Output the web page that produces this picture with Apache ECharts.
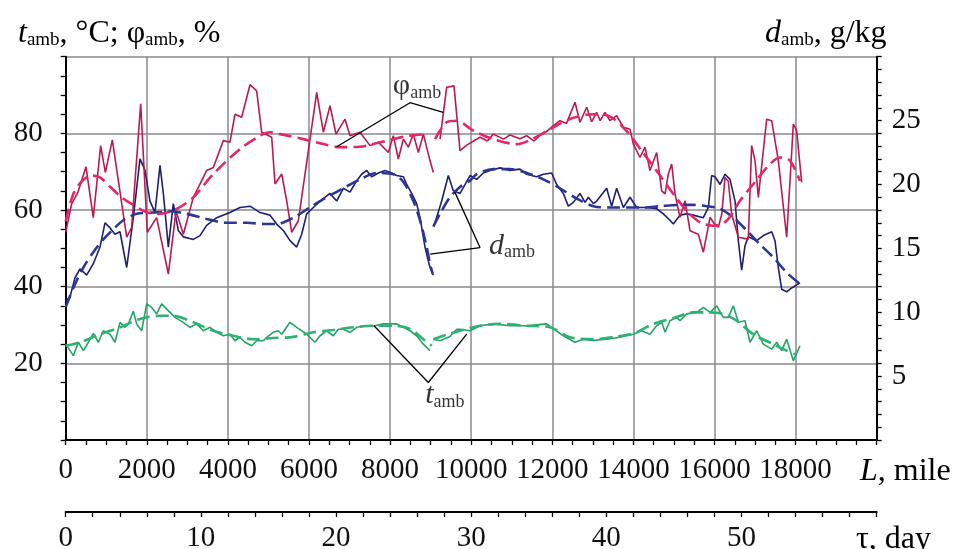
<!DOCTYPE html>
<html><head><meta charset="utf-8">
<script src="https://cdn.jsdelivr.net/npm/echarts@6/dist/echarts.min.js"></script>
<style>html,body{margin:0;padding:0;background:#fff}#c{width:964px;height:549px}</style>
</head><body><div id="c"></div>
<script>
// ---- tick labels / axes ----
const distTicks = [0,2000,4000,6000,8000,10000,12000,14000,16000,18000];
const dayTicks = [0,10,20,30,40,50];
const leftTicks = [20,40,60,80];
const rightTicks = [5,10,15,20,25];

// ---- relative humidity phi_amb, % (L mile, value) ----
const phiRaw1 = [[0,54.2],[147,61.6],[300,64.6],[500,71.3],[680,58],[862,76.8],[977,69.8],[1150,78.3],[1504,52.9],[1627,55.5],[1849,87.7],[2013,54.2],[2243,58],[2531,43.3],[2720,59.8],[2901,53.7],[3147,63.3],[3476,70.3],[3640,71.1],[3887,78.1],[4051,77.7],[4175,85],[4339,84.2],[4545,92.7],[4709,91.1],[4833,80.3],[5080,79],[5162,66.8],[5326,69.4],[5450,62.4],[5573,54.2],[5737,57.2],[6025,78.5],[6190,90.7],[6354,80.3],[6518,87.2],[6666,79.8],[6888,83.7],[7011,79.4],[7258,80.3],[7505,76.8],[7710,77.7],[7957,75],[8080,79.4],[8203,73.3],[8327,78.5],[8450,76.4],[8573,79.8],[8697,75],[8820,79.8],[8984,72.9],[9066,69.8]];
const phiRaw2 = [[9231,78.5],[9395,92],[9576,92.4],[9724,75.5],[9900,77],[10217,79],[10400,78],[10546,79.8],[10800,78.5],[10957,79.6],[11200,78.6],[11368,79.4],[11550,78],[11700,79.5],[11861,80.5],[12026,82],[12190,83.3],[12350,82.6],[12560,88.1],[12683,82.9],[12848,86.8],[12970,83],[13094,85.5],[13180,83.3],[13300,85.5],[13420,83.3],[13587,84.6],[13752,81.6],[13916,81.1],[13998,77.2],[14163,73.7],[14286,76.4],[14409,70.3],[14574,75],[14697,65],[14780,64.2],[14861,69.4],[14944,72],[15026,64.2],[15149,58.1],[15273,62.4],[15396,54.6],[15602,53.7],[15725,49],[15890,58.1],[15990,56.5],[16095,55.5],[16180,59],[16259,68.5],[16340,67.5],[16423,58.9],[16588,52.9],[16834,52.4],[16916,76.8],[16999,72.9],[17081,63.3],[17287,83.7],[17410,83.3],[17574,72.9],[17780,52.9],[17944,82.4],[18026,80.7],[18150,67.2]];
const phiFit1 = [[0,57],[188,64.2],[400,67.5],[640,69],[846,68.5],[1100,66],[1380,63.3],[1627,61.6],[1997,59.4],[2325,59],[2736,60.3],[3147,63.3],[3640,69.4],[4299,75.9],[4792,79.4],[5038,80.3],[5285,79.8],[5860,78.5],[6354,77.2],[6765,76.4],[7258,76.5],[7587,77.2],[8080,78.5],[8491,79.4],[8900,79.8]];
const phiFit2 = [[9107,78.5],[9395,82.9],[9641,83.3],[10052,80.7],[10546,78.5],[11121,77.2],[11500,78.5],[12025,81.6],[12500,84],[13000,85],[13400,84.5],[13800,81],[14200,75.5],[14656,69],[14985,64.2],[15314,59.8],[15643,56.8],[15971,55.9],[16300,57.2],[16629,62.4],[16958,66.8],[17369,72],[17615,73.7],[17862,72.9],[18108,67.6]];

// ---- moisture content d_amb, g/kg ----
const dRaw1 = [[0,10.9],[106,11.2],[230,12.7],[353,13.4],[517,12.9],[681,13.8],[846,15.1],[969,17.0],[1093,16.6],[1216,16.1],[1339,16.3],[1504,13.5],[1668,17.4],[1832,22.0],[1955,21.1],[2079,18.7],[2202,17.8],[2325,21.5],[2408,19.3],[2531,15.1],[2654,18.5],[2777,16.4],[2901,15.9],[3147,15.7],[3312,16.0],[3476,16.8],[3722,17.4],[4051,17.8],[4299,18.2],[4545,18.3],[4792,17.8],[5038,17.6],[5203,16.9],[5367,16.4],[5532,15.6],[5696,15.1],[5820,16.1],[5943,17.7],[6107,18.2],[6272,18.7],[6518,19.3],[6683,18.7],[6847,19.7],[7011,19.4],[7176,20.3],[7299,20.8],[7423,21.1],[7546,20.6],[7710,20.9],[7875,21.1],[8039,20.9],[8162,20.7],[8327,20.6],[8409,20.0],[8532,19.3],[8655,18.5],[8738,17.4],[8861,15.1],[8943,14.0],[8984,13.5],[9066,12.9]];
const dRaw2 = [[9107,17.0],[9272,18.7],[9436,20.7],[9559,19.5],[9724,19.3],[9971,20.7],[10135,20.4],[10299,20.9],[10464,21.1],[10710,21.3],[10957,21.1],[11203,21.2],[11368,20.8],[11615,20.6],[11779,20.8],[11984,20.9],[12108,20.0],[12272,19.3],[12396,18.3],[12519,18.6],[12683,19.3],[12807,18.6],[12889,19.0],[13012,18.5],[13094,18.7],[13341,19.7],[13464,18.3],[13587,19.7],[13752,18.2],[13916,19.0],[14080,18.2],[14327,18.2],[14574,18.1],[14738,17.7],[14902,17.2],[14985,16.9],[15149,17.6],[15314,17.7],[15478,17.6],[15725,17.4],[15848,18.2],[15930,20.7],[16013,20.6],[16136,20.0],[16259,20.8],[16382,20.4],[16506,18.7],[16588,15.6],[16670,13.3],[16752,15.2],[16834,15.9],[17040,15.6],[17205,16.0],[17410,16.3],[17492,15.6],[17574,13.5],[17656,11.8],[17780,11.6],[17903,11.9],[18108,12.3]];
const dFit1 = [[0,10.4],[188,11.9],[435,13.5],[681,14.7],[928,15.7],[1175,16.5],[1421,17.2],[1750,17.7],[2161,17.8],[2572,17.9],[2983,17.7],[3476,17.3],[3969,17.0],[4463,17.0],[4956,16.9],[5203,16.9],[5614,17.4],[6025,18.2],[6436,19.0],[6847,19.7],[7258,20.4],[7669,20.9],[8080,20.8],[8327,20.2],[8573,18.7],[8738,17.2],[8902,15.1],[8984,13.8],[9050,13.0]];
const dFit2 = [[9066,16.7],[9231,17.7],[9477,19.0],[9724,19.8],[9970,20.3],[10135,20.8],[10546,21.2],[10957,21.2],[11368,20.9],[11779,20.4],[12190,19.7],[12601,18.9],[13012,18.3],[13423,18.2],[13834,18.2],[14245,18.2],[14656,18.3],[15149,18.4],[15478,18.4],[15807,18.3],[16136,18.1],[16465,17.4],[16793,16.4],[17122,15.3],[17451,14.3],[17780,13.1],[18150,12.1]];

// ---- temperature t_amb, °C ----
const tRaw1 = [[0,25],[188,22],[312,25.5],[435,23.3],[558,25.5],[681,27.8],[805,25.5],[928,28.5],[1093,27.6],[1216,25.5],[1339,30.7],[1462,29.4],[1545,30.3],[1668,33.6],[1750,30.3],[1873,28.5],[1997,35.5],[2120,34.6],[2243,32.9],[2366,35.5],[2572,33.3],[2695,32],[2901,30.7],[3065,29.4],[3229,30.3],[3394,28.5],[3558,29.4],[3722,28.1],[3887,27.2],[4051,27.6],[4175,25.9],[4299,26.8],[4421,25.5],[4586,24.6],[4709,25.9],[4874,25.9],[4956,26.8],[5120,28.1],[5243,28.5],[5326,27.6],[5531,30.7],[5696,29.4],[5942,27.6],[6148,25.5],[6272,27.2],[6436,28.5],[6600,27.2],[6723,28.9],[6846,28.9],[7011,28.1],[7175,29.4],[7422,29.8],[7628,29.8],[7833,30.3],[8162,30.3],[8327,29.4],[8491,28.5],[8655,27.2],[8819,25],[8984,23.3]];
const tRaw2 = [[9066,26.3],[9230,25.9],[9477,27],[9641,28.9],[9724,28.9],[9970,28.5],[10217,29.8],[10546,30.3],[10957,29.8],[11368,29.8],[11861,30.3],[12026,29],[12272,27.2],[12560,25.5],[12766,26.3],[13012,26],[13341,26.3],[13670,26.8],[14000,27.6],[14200,28.5],[14409,27.6],[14574,29.8],[14700,30.7],[14780,28.1],[14902,31.1],[15067,32],[15150,31.1],[15314,32.9],[15560,33.3],[15725,34.6],[15890,33.3],[16054,35],[16218,32],[16341,32],[16464,35],[16588,30.7],[16752,31.1],[16875,25.5],[17040,28.5],[17204,25],[17410,23.7],[17533,25.5],[17656,23.3],[17780,26.3],[17944,20.7],[18108,24.6]];
const tFit1 = [[0,24.6],[353,25.5],[846,27.6],[1339,29.4],[1832,31.6],[2325,32.4],[2654,32.4],[3147,30.7],[3640,28.5],[4134,27.2],[4627,26.3],[5120,26.6],[5613,26.9],[6107,28.1],[6600,28.7],[7093,29.4],[7586,29.8],[8079,29.8],[8491,29],[8819,26.3],[9025,24.6]];
const tFit2 = [[9066,26.3],[9400,27.5],[9724,28.5],[10217,29.8],[10710,30.3],[11368,29.8],[11943,29.4],[12437,26.8],[13012,26.3],[13505,26.9],[14000,27.8],[14492,30.3],[14985,31.8],[15478,33.3],[15807,33.3],[16218,32.9],[16546,31.1],[16958,27.6],[17451,25],[17780,23.3],[17985,22.4]];

// ---- callout leaders (L, left-axis units) ----
const phiLeader = [[6683,76.5],[8491,88],[9312,85.5]];
const dLeader = [[8988,48.5],[10217,50.2],[9600,64.6]];
const tLeader = [[7603,29.8],[8942,15],[9889,27.6]];
const phiTag = [[8664,92.2]];
const dTag = [[11006,50.6]];
const tTag = [[9351,11.6]];

const SERIF = '"Liberation Serif","DejaVu Serif",serif';
function mkRich(big, small, pad){
  return {
    i: {fontFamily: SERIF, fontStyle: 'italic', fontWeight: 'normal', fontSize: big, color: '#000'},
    n: {fontFamily: SERIF, fontWeight: 'normal', fontSize: big, color: '#000'},
    s: {fontFamily: SERIF, fontWeight: 'normal', fontSize: small, color: '#000', padding: [pad,0,0,0]}
  };
}
const richHead = mkRich(32, 19, 14);
const rich = mkRich(30, 18, 13);
const C = {phiRaw:'#bb1a50', phiFit:'#e4266a', dRaw:'#1e1f72', dFit:'#2c3696', tRaw:'#23a466', tFit:'#2db274'};

function raw(name, data, color, yIdx){
  return {type:'line', name, data, yAxisIndex:yIdx, showSymbol:false, symbol:'none', silent:true,
    lineStyle:{color, width:1.6}, z:3, animation:false};
}
function fit(name, data, color, yIdx){
  return {type:'line', name, data, yAxisIndex:yIdx, showSymbol:false, symbol:'none', silent:true, smooth:0.3,
    lineStyle:{color, width:2.6, type:[13,6]}, z:4, animation:false};
}
function leader(data){
  return {type:'line', data, yAxisIndex:0, showSymbol:false, symbol:'none', silent:true,
    lineStyle:{color:'#000', width:1.3}, z:5, animation:false};
}
function tag(data, text){
  return {type:'scatter', data, yAxisIndex:0, symbolSize:0.1, silent:true, z:6, animation:false,
    itemStyle:{color:'rgba(0,0,0,0)'},
    label:{show:true, position:'inside', formatter:text, color:'#000', textBorderWidth:0, rich}};
}

const chart = echarts.init(document.getElementById('c'), null, {renderer:'canvas'});
const axisLine = {show:true, onZero:false, lineStyle:{color:'#000', width:2}};
const tick = {show:true, inside:false, length:5, lineStyle:{color:'#000', width:1.3}};
const grayGrid = {show:true, lineStyle:{color:'#8a8a8a', width:1.5}};
const lblFont = {fontFamily: SERIF, fontSize: 29, color:'#111'};

chart.setOption({
  animation:false,
  backgroundColor:'#fff',
  title:[
    {text:'{i|t}{s|amb}{n|, °C; φ}{s|amb}{n|, %}', left:13, top:12, textStyle:{rich:richHead}},
    {text:'{i|d}{s|amb}{n|, g/kg}', left:760, top:12, textStyle:{rich:richHead}},
    {text:'{i|L}{n|, mile}', left:855, top:451, textStyle:{rich:richHead}},
    {text:'{n|τ, day}', left:851, top:519, textStyle:{rich:richHead}}
  ],
  grid:{left:65.7, right:87.3, top:56.7, bottom:109, containLabel:false, outerBoundsMode:'none'},
  xAxis:[
    {type:'value', min:0, max:20000, interval:2000, position:'bottom',
      axisLine, axisTick:tick, minorTick:{show:true, splitNumber:4, length:5, lineStyle:{color:'#000', width:1.3}},
      splitLine:grayGrid,
      axisLabel:{...lblFont, margin:16, formatter:v => distTicks.includes(v) ? String(v) : ''}},
    {type:'value', min:0, max:60, interval:10, position:'bottom', offset:72,
      axisLine, axisTick:tick, minorTick:{show:true, splitNumber:5, length:5, lineStyle:{color:'#000', width:1.3}},
      splitLine:{show:false},
      axisLabel:{...lblFont, margin:12, formatter:v => dayTicks.includes(v) ? String(v) : ''}}
  ],
  yAxis:[
    {type:'value', min:0, max:100, interval:20, position:'left',
      axisLine, axisTick:tick, minorTick:{show:true, splitNumber:4, length:5, lineStyle:{color:'#000', width:1.3}},
      splitLine:grayGrid,
      axisLabel:{...lblFont, margin:23, formatter:v => leftTicks.includes(v) ? String(v) : ''}},
    {type:'value', min:0, max:30, interval:5, position:'right',
      axisLine, axisTick:tick, minorTick:{show:true, splitNumber:5, length:5, lineStyle:{color:'#000', width:1.3}},
      splitLine:{show:false},
      axisLabel:{...lblFont, margin:15, formatter:v => rightTicks.includes(v) ? String(v) : ''}}
  ],
  series:[
    raw('t raw 1', tRaw1, C.tRaw, 0), raw('t raw 2', tRaw2, C.tRaw, 0),
    fit('t fit 1', tFit1, C.tFit, 0), fit('t fit 2', tFit2, C.tFit, 0),
    raw('d raw 1', dRaw1, C.dRaw, 1), raw('d raw 2', dRaw2, C.dRaw, 1),
    fit('d fit 1', dFit1, C.dFit, 1), fit('d fit 2', dFit2, C.dFit, 1),
    raw('phi raw 1', phiRaw1, C.phiRaw, 0), raw('phi raw 2', phiRaw2, C.phiRaw, 0),
    fit('phi fit 1', phiFit1, C.phiFit, 0), fit('phi fit 2', phiFit2, C.phiFit, 0),
    leader(phiLeader), leader(dLeader), leader(tLeader),
    tag(phiTag, '{n|φ}{s|amb}'), tag(dTag, '{i|d}{s|amb}'), tag(tTag, '{i|t}{s|amb}')
  ]
});
</script></body></html>
